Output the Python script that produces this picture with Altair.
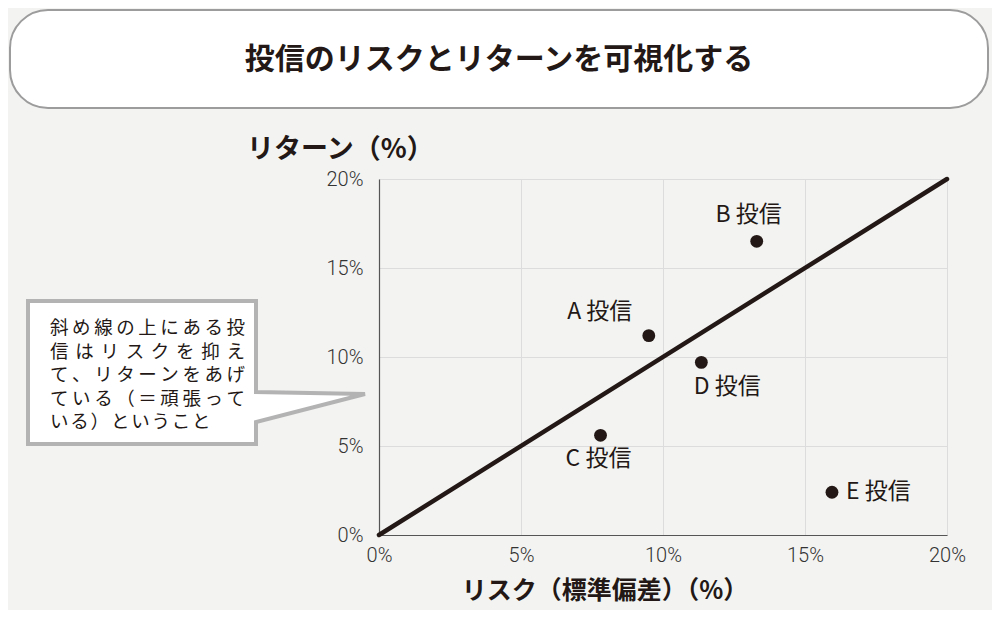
import altair as alt
import pandas as pd

# data (percent)
funds = ["A投信", "B投信", "C投信", "D投信", "E投信"]
risk = [9.5, 13.3, 7.8, 11.35, 15.95]
ret = [11.2, 16.5, 5.6, 9.7, 2.4]

line_x = [0, 20]
line_y = [0, 20]
ticks = [0, 5, 10, 15, 20]

title_text = "投信のリスクとリターンを可視化する"
y_title = "リターン（%）"
x_title = "リスク（標準偏差）（%）"
note_lines = [
    "斜め線の上にある投",
    "信はリスクを抑え",
    "て、リターンをあげ",
    "ている（＝頑張って",
    "いる）ということ",
]

INK = "#231815"
FONT = "Noto Sans CJK JP"
W, H = 568, 356

df = pd.DataFrame({"fund": funds, "risk": risk, "ret": ret})
df["label"] = [f[0] + " " + f[1:] for f in funds]
line_df = pd.DataFrame({"risk": line_x, "ret": line_y})
one = pd.DataFrame({"k": [0]})

# label placement around each point: align, dx, dy
place = {
    "A投信": ("center", -49, -24),
    "B投信": ("center", -8, -26),
    "C投信": ("center", -2, 24),
    "D投信": ("center", 26, 25),
    "E投信": ("left", 14, 0),
}

x_enc = alt.X(
    "risk:Q",
    scale=alt.Scale(domain=[0, 20], nice=False),
    axis=alt.Axis(values=ticks, labelExpr="datum.value + '%'", title=None,
                  labelPadding=10, labelFlush=False),
)
y_enc = alt.Y(
    "ret:Q",
    scale=alt.Scale(domain=[0, 20], nice=False),
    axis=alt.Axis(values=ticks, labelExpr="datum.value + '%'", title=None,
                  labelPadding=16, labelFlush=False),
)

diag = alt.Chart(line_df).mark_line(color=INK, strokeWidth=4.5, strokeCap="round").encode(
    x=x_enc, y=y_enc
)
dots = alt.Chart(df).mark_circle(size=165, color=INK, opacity=1).encode(x=x_enc, y=y_enc)

labels = []
for name, (al, dx, dy) in place.items():
    labels.append(
        alt.Chart(df)
        .transform_filter(alt.datum.fund == name)
        .mark_text(font=FONT, fontSize=23, color=INK, align=al, baseline="middle", dx=dx, dy=dy)
        .encode(x="risk:Q", y="ret:Q", text="label:N")
    )

# title box
title_box = alt.Chart(one).mark_rect(
    cornerRadius=38, fill="white", stroke="#9c9c9c", strokeWidth=2
).encode(x=alt.value(-369), x2=alt.value(609), y=alt.value(-169), y2=alt.value(-71))
title = alt.Chart(one).mark_text(
    text=title_text, font=FONT, fontSize=30, fontWeight="bold", color=INK,
    align="center", baseline="middle",
).encode(x=alt.value(120), y=alt.value(-119))

ytitle = alt.Chart(one).mark_text(
    text=y_title, font=FONT, fontSize=27, fontWeight="bold", color=INK,
    align="left", baseline="middle",
).encode(x=alt.value(-132), y=alt.value(-29))
xtitle = alt.Chart(one).mark_text(
    text=x_title, font=FONT, fontSize=25, fontWeight="bold", color=INK,
    align="center", baseline="middle",
).encode(x=alt.value(226), y=alt.value(412))

# speech bubble (path in pixels: size 4 -> scale 1)
bubble_path = "M-351,122 L-123,122 L-123,213 L-14,215 L-123,243 L-123,265 L-351,265 Z"
bubble = alt.Chart(one).mark_point(
    shape=bubble_path, size=4, filled=True, fill="white", stroke="#b3b3b3",
    strokeWidth=4, opacity=1, strokeJoin="miter",
).encode(x=alt.value(0), y=alt.value(0))

# bubble text, justified like the print
fs = 18.5
left, right = -329, -134
rows = []
for i, line in enumerate(note_lines):
    n = len(line)
    last = i == len(note_lines) - 1
    pitch = 20.3 if last else (right - left - fs) / (n - 1)
    for j, ch in enumerate(line):
        rows.append({"ch": ch, "px": left + fs / 2 + j * pitch, "py": 149 + i * 23.5})
note_df = pd.DataFrame(rows)
note = alt.Chart(note_df).mark_text(
    font=FONT, fontSize=fs, color=INK, align="center", baseline="middle"
).encode(
    x=alt.X("px:Q", scale=None, axis=None),
    y=alt.Y("py:Q", scale=None, axis=None),
    text="ch:N",
)

chart = (
    alt.layer(title_box, title, ytitle, xtitle, bubble, note, diag, dots, *labels)
    .properties(
        width=W, height=H,
        autosize=alt.AutoSizeParams(type="none"),
        padding={"left": 371, "top": 171, "right": 45, "bottom": 75},
    )
    .configure(background="#f3f4f2")
    .configure_view(stroke=None)
    .configure_axis(
        grid=True, gridColor="#dcdcdc", gridWidth=1,
        domainColor="#555555", domainWidth=1.2, ticks=False,
        labelFont="Roboto", labelFontSize=20, labelFontWeight=300, labelColor="#333333",
    )
)

chart.save("out.html", embed_options={"renderer": "svg", "actions": False})
